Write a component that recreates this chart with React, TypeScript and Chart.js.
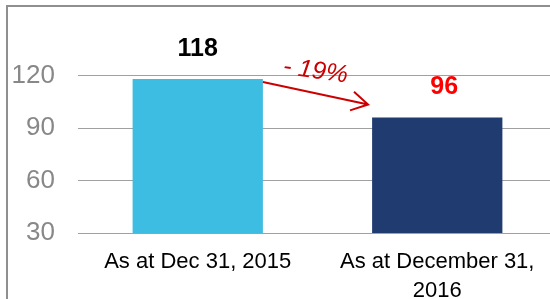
import React, { useEffect, useRef } from 'react';
import { Chart, registerables } from 'chart.js';

Chart.register(...registerables);

const categories = [['As at Dec 31, 2015'], ['As at December 31,', '2016']];
const values = [118, 96];
const valueLabels = ['118', '96'];
const changeLabel = '- 19%';
const yTickValues = [30, 60, 90, 120];
const yMin = 30;
const yMax = 150;

const barColors = ['#3EBDE2', '#1F3B70'];
const labelColors = ['#000000', '#FF0000'];
const labelDx = [0, 7];
const FONT = '"Liberation Sans", Arial, sans-serif';
const ARROW_COLOR = '#CC0000';

const annotPlugin = {
  id: 'annot',
  afterDatasetsDraw(chart: any) {
    const ctx = chart.ctx;
    const meta = chart.getDatasetMeta(0);
    const bars = meta.data;
    ctx.save();
    ctx.font = `bold 25px ${FONT}`;
    ctx.textAlign = 'center';
    ctx.textBaseline = 'middle';
    bars.forEach((bar: any, i: number) => {
      ctx.fillStyle = labelColors[i];
      ctx.fillText(valueLabels[i], bar.x + labelDx[i], bar.y - 30);
    });
    // arrow
    const b0 = bars[0];
    const b1 = bars[1];
    const sx = b0.x + b0.width / 2;
    const sy = b0.y + 3;
    const ex = b1.x - b1.width / 2 - 4;
    const ey = b1.y - 13;
    ctx.strokeStyle = ARROW_COLOR;
    ctx.lineWidth = 2;
    ctx.beginPath();
    ctx.moveTo(sx, sy);
    ctx.lineTo(ex, ey);
    const ang = Math.atan2(ey - sy, ex - sx);
    const hl = 19;
    const ha = (30 * Math.PI) / 180;
    ctx.moveTo(ex - hl * Math.cos(ang - ha), ey - hl * Math.sin(ang - ha));
    ctx.lineTo(ex, ey);
    ctx.lineTo(ex - hl * Math.cos(ang + ha), ey - hl * Math.sin(ang + ha));
    ctx.stroke();
    // change label
    const mx = (sx + ex) / 2;
    const my = (sy + ey) / 2 - 22;
    ctx.translate(mx, my);
    ctx.rotate((8 * Math.PI) / 180);
    ctx.fillStyle = ARROW_COLOR;
    ctx.font = `italic 25px ${FONT}`;
    ctx.fillText(changeLabel, 0, 0);
    ctx.restore();
  },
};

export default function App() {
  const ref = useRef<HTMLCanvasElement | null>(null);

  useEffect(() => {
    if (!ref.current) return;
    const chart = new Chart(ref.current, {
      type: 'bar',
      data: {
        labels: categories as any,
        datasets: [
          {
            data: values,
            backgroundColor: barColors,
            borderWidth: 0,
            categoryPercentage: 1,
            barPercentage: 0.544,
          },
        ],
      },
      options: {
        responsive: false,
        animation: false,
        layout: { padding: { top: 23, right: 3, left: 0, bottom: 0 } },
        plugins: {
          legend: { display: false },
          tooltip: { enabled: false },
        },
        scales: {
          x: {
            grid: { display: false, drawTicks: false },
            border: { display: false },
            ticks: {
              color: '#000000',
              font: { family: FONT, size: 22, lineHeight: 1.33 },
              maxRotation: 0,
              minRotation: 0,
              autoSkip: false,
              padding: 14,
            },
            afterFit(scale: any) {
              scale.height = 66;
              scale.paddingLeft = 0;
              scale.paddingRight = 0;
            },
          },
          y: {
            min: yMin,
            max: yMax,
            grid: { color: '#A0A0A0', lineWidth: 1, drawTicks: false },
            border: { display: false },
            ticks: {
              color: '#888888',
              font: { family: FONT, size: 26 },
              padding: 23,
            },
            afterBuildTicks(scale: any) {
              scale.ticks = yTickValues.map((v) => ({ value: v }));
            },
            afterFit(scale: any) {
              scale.width = 78;
              scale.paddingTop = 0;
              scale.paddingBottom = 0;
            },
          },
        },
      },
      plugins: [annotPlugin],
    });
    return () => chart.destroy();
  }, []);

  return (
    <div
      style={{
        position: 'fixed',
        left: 0,
        top: 0,
        width: 550,
        height: 299,
        overflow: 'hidden',
        background: '#ffffff',
      }}
    >
      <div
        style={{
          position: 'absolute',
          left: 6,
          top: 5,
          width: 700,
          height: 500,
          border: '2px solid #8F8F8F',
          boxSizing: 'border-box',
        }}
      />
      <canvas
        ref={ref}
        width={560}
        height={299}
        style={{ position: 'absolute', left: 0, top: 0, display: 'block' }}
      />
    </div>
  );
}
